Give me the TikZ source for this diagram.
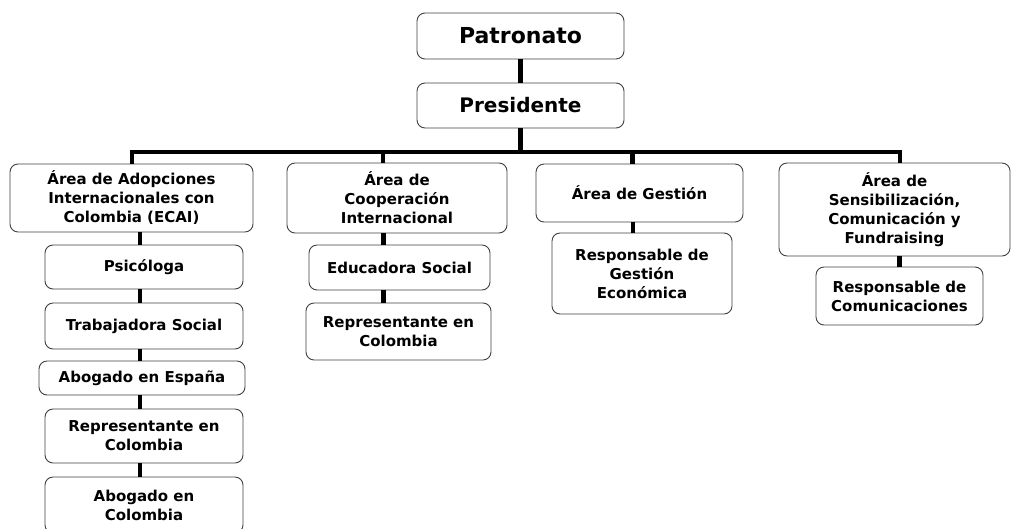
\documentclass[tikz,border=0pt]{standalone}
\usepackage{fontspec}
\setmainfont{DejaVu Sans}
\usetikzlibrary{positioning}

\begin{document}
\begin{tikzpicture}[x=1pt, y=-1pt, box/.style={draw=black!75, fill=white, rounded corners=8pt, line width=0.9pt, align=center, inner sep=0pt, font=\bfseries\fontsize{15}{19}\selectfont}, link/.style={line width=4.5pt}]
\useasboundingbox (0,0) rectangle (1011,528);
\node[box, minimum width=207pt, minimum height=46pt, font=\bfseries\fontsize{22}{24}\selectfont] (PAT)  at (520.5,36)  {Patronato};
\node[box, minimum width=207pt, minimum height=45pt, font=\bfseries\fontsize{20}{24}\selectfont] (PRES) at (520.5,105.5) {Presidente};
\node[box, minimum width=243pt, minimum height=68pt] (ECAI) at (131.5,198) {Área de Adopciones\\Internacionales con\\Colombia (ECAI)};
\node[box, minimum width=198pt, minimum height=44pt] (PSI)  at (144,267)   {Psicóloga};
\node[box, minimum width=198pt, minimum height=46pt] (TRAB) at (144,326)   {Trabajadora Social};
\node[box, minimum width=206pt, minimum height=34pt] (ESP)  at (142,378)   {Abogado en España};
\node[box, minimum width=198pt, minimum height=54pt] (REPC) at (144,436)   {Representante en\\Colombia};
\node[box, minimum width=198pt, minimum height=56pt] (ABOG) at (144,505)   {Abogado en\\Colombia};
\node[box, minimum width=220pt, minimum height=70pt] (COOP) at (397,198)   {Área de\\Cooperación\\Internacional};
\node[box, minimum width=181pt, minimum height=45pt] (EDUC) at (399.5,267.5) {Educadora Social};
\node[box, minimum width=185pt, minimum height=57pt] (REPI) at (398.5,331.5) {Representante en\\Colombia};
\node[box, minimum width=207pt, minimum height=58pt] (GEST) at (639.5,193) {Área de Gestión};
\node[box, minimum width=180pt, minimum height=81pt] (RESG) at (642,273.5) {Responsable de\\Gestión\\Económica};
\node[box, minimum width=231pt, minimum height=93pt] (SENS) at (894.5,209.5) {Área de\\Sensibilización,\\Comunicación y\\Fundraising};
\node[box, minimum width=167pt, minimum height=58pt] (COM)  at (899.5,296) {Responsable de\\Comunicaciones};
\coordinate (busL) at (132,152);
\coordinate (busR) at (900,152);
\draw[link] (PAT) -- (PRES);
\draw[link] (PRES) -- (PRES |- busL);
\draw[link] (ECAI.north -| busL) -- (busL) -- (busR) -- (busR |- SENS.north);
\draw[link] ([xshift=-14pt]COOP.north) -- ([xshift=-14pt]COOP.north |- busL);
\draw[link] ([xshift=-7pt]GEST.north) -- ([xshift=-7pt]GEST.north |- busL);
\foreach \a/\b/\s in {ECAI/PSI/-4, PSI/TRAB/-4, TRAB/ESP/-2, ESP/REPC/-4, REPC/ABOG/-4, COOP/EDUC/-16, EDUC/REPI/-15, GEST/RESG/-9, SENS/COM/0}
  \draw[link] ([xshift=\s pt]\b.north |- \a.south) -- ([xshift=\s pt]\b.north);
\end{tikzpicture}
\end{document}
